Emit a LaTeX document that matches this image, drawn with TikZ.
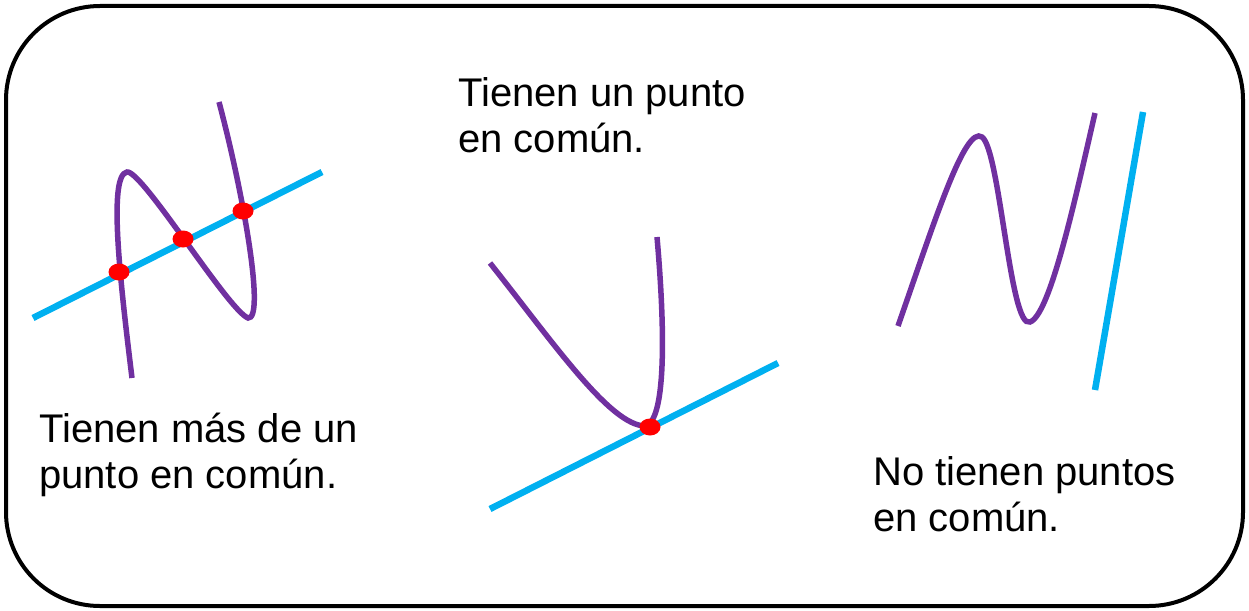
\documentclass[tikz,border=0pt]{standalone}
\usepackage{fontspec}
\setmainfont{Liberation Sans}
\definecolor{curvepurple}{HTML}{7030A0}
\definecolor{lineblue}{HTML}{00B0F0}
\definecolor{dotred}{HTML}{FF0000}
\tikzset{
  curvestyle/.style={draw=curvepurple, line width=5.5pt},
  linestyle/.style={draw=lineblue, line width=6.5pt},
  dotstyle/.style={ellipse, fill=dotred, minimum width=21pt, minimum height=17pt, inner sep=0pt},
  label/.style={anchor=base west, align=left, inner sep=0pt, font=\fontsize{40}{46}\selectfont}
}
\usetikzlibrary{shapes.geometric}
\begin{document}
\begin{tikzpicture}[x=1pt,y=-1pt]
\useasboundingbox (0,0) rectangle (1249,610);
\draw[line width=4pt, rounded corners=94pt] (6,6) rectangle (1243,606);

% left
\draw[linestyle] (33,318) -- (322,172);
\draw[curvestyle] (132,378) .. controls (120,280) and (108,175) .. (127,172)
  .. controls (142,170) and (228,310) .. (248,318)
  .. controls (265,320) and (245,200) .. (219,102);
\node[dotstyle] (d1) at (119,272) {};
\node[dotstyle] (d2) at (183,239) {};
\node[dotstyle] (d3) at (243,211) {};
\node[label] (t1) at (39,488) {Tienen más de un\\punto en común.};

% middle
\draw[linestyle] (490,509) -- (778,363);
\draw[curvestyle] (490,263) .. controls (555,345) and (610,425) .. (645,426)
  .. controls (665,422) and (666,340) .. (657,237);
\node[dotstyle] (d4) at (650,427) {};
\node[label] (t2) at (458,152) {Tienen un punto\\en común.};

% right
\draw[linestyle] (1143,112) -- (1095,390);
\draw[curvestyle] (898,326) .. controls (935,220) and (965,125) .. (982,137)
  .. controls (1000,150) and (1010,330) .. (1030,322)
  .. controls (1050,315) and (1075,200) .. (1095,113);
\node[label] (t3) at (873,531) {No tienen puntos\\en común.};
\end{tikzpicture}
\end{document}
